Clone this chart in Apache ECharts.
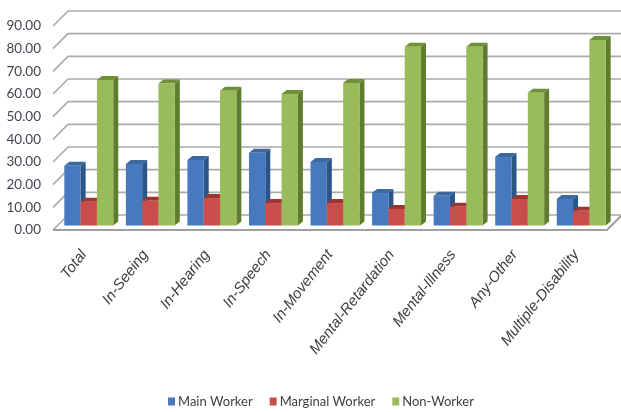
<!DOCTYPE html>
<html><head><meta charset="utf-8">
<style>html,body{margin:0;padding:0;background:#fff}#c{width:621px;height:412px;filter:blur(0.5px)}</style>
<script src="https://cdn.jsdelivr.net/npm/echarts@6/dist/echarts.min.js"></script>
</head><body><div id="c"></div>
<script>
const categories = ["Total","In-Seeing","In-Hearing","In-Speech","In-Movement","Mental-Retardation","Mental-Illness","Any-Other","Multiple-Disability"];
const mainWorker = [26.4,27.1,28.9,32.1,28.0,14.3,13.1,30.2,11.7];
const marginalWorker = [10.5,10.9,12.1,9.9,9.9,7.3,8.3,11.7,6.5];
const nonWorker = [64.2,62.7,59.5,58.0,62.9,78.9,78.9,58.6,81.8];
const yTicks = [0,10,20,30,40,50,60,70,80,90];
const legendNames = ["Main Worker","Marginal Worker","Non-Worker"];
const faceColors = [["#4679BD","#2A5587","#3A689F"],["#C94D4A","#8F2E2C","#A03432"],["#9ABB59","#5E7D2E","#6F8F38"]];
const valueSets = [mainWorker, marginalWorker, nonWorker];

const depth = 15, barDx = 5, barDy = -4.5, sideDx = 5, sideDy = -4, gridColor = "#ABABAB";

function wall(params, api){
  const cs = params.coordSys, v = api.value(1), y = api.coord([0,v])[1];
  const L = cs.x, R = cs.x + cs.width;
  const style = {stroke:gridColor, lineWidth:1.6, fill:null};
  const kids = [{type:"polyline",shape:{points:[[L,y],[L+depth,y-depth],[R+depth,y-depth]]},style}];
  if(v === 0){
    kids.push({type:"polyline",shape:{points:[[L,y],[R,y],[R+depth,y-depth]]},style:{stroke:"#A0A0A0",lineWidth:2,fill:null}});
  }
  return {type:"group",children:kids};
}
function bar3d(idx){
  return function(params, api){
    const cat = api.value(0), val = api.value(1);
    const band = api.size([1,0])[0], w = band*0.265;
    const top = api.coord([cat,val]), base = api.coord([cat,0]);
    const x = top[0] - 1.5*w + idx*w + barDx;
    const yT = top[1] + barDy, yB = base[1] + barDy;
    const c = faceColors[idx];
    return {type:"group",children:[
      {type:"polygon",shape:{points:[[x+w,yT],[x+w+sideDx,yT+sideDy],[x+w+sideDx,yB+sideDy],[x+w,yB]]},style:{fill:c[1]}},
      {type:"polygon",shape:{points:[[x,yT],[x+sideDx,yT+sideDy],[x+w+sideDx,yT+sideDy],[x+w,yT]]},style:{fill:c[2]}},
      {type:"rect",shape:{x:x,y:yT,width:w,height:yB-yT},style:{fill:c[0]}}
    ]};
  };
}
const chart = echarts.init(document.getElementById("c"),null,{renderer:"canvas"});
chart.setOption({
  animation:false,
  backgroundColor:"#fff",
  grid:{left:53,top:26,width:554,height:204,outerBoundsMode:"none"},
  legend:{
    data:legendNames.map((n,i)=>({name:n,itemStyle:{color:faceColors[i][0]}})),
    left:163,top:390,icon:"rect",itemWidth:7,itemHeight:8,itemGap:17,
    textStyle:{fontFamily:"Lato",fontSize:13,color:"#3F3F3F",padding:[0,0,0,-2]}
  },
  xAxis:{type:"category",data:categories,axisLine:{show:false},axisTick:{show:false},splitLine:{show:false},
     axisLabel:{interval:0,rotate:52,margin:22,fontFamily:"Liberation Sans",fontStyle:"italic",fontSize:15,color:"#3F3F3F"}},
  yAxis:{type:"value",min:0,max:90,interval:10,axisLine:{show:false},axisTick:{show:false},splitLine:{show:false},
     axisLabel:{margin:12,fontFamily:"Lato",fontSize:13.5,color:"#3F4650",formatter:v=>v.toFixed(2)}},
  series:[
    {type:"custom",name:"walls",silent:true,z:1,data:yTicks.map(v=>[0,v]),renderItem:wall},
    ...legendNames.map((n,i)=>({type:"custom",name:n,z:2+i,
      itemStyle:{color:faceColors[i][0]},
      data:valueSets[i].map((v,k)=>[k,v]),renderItem:bar3d(i)}))
  ]
});
</script></body></html>
